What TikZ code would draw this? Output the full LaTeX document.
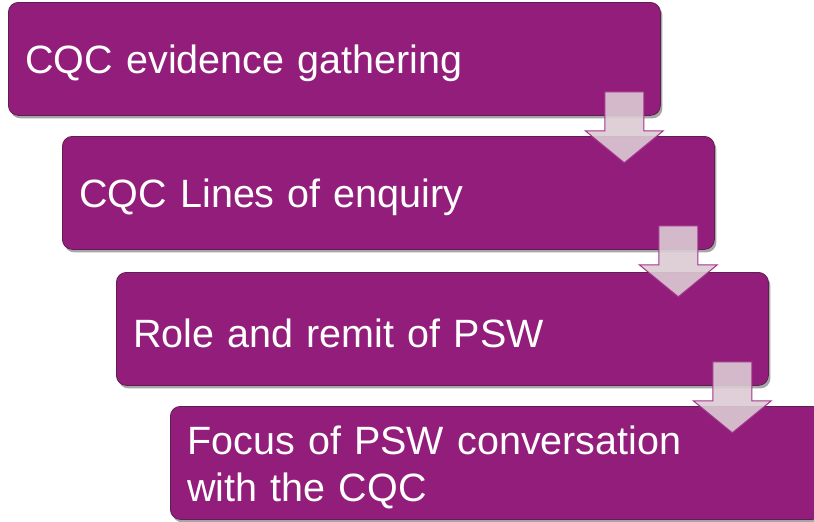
\documentclass[tikz,border=0pt]{standalone}
\usepackage{fontspec}
\setmainfont{Liberation Sans}
\usetikzlibrary{shadows,calc}
\definecolor{boxpurple}{HTML}{931D7B}
\definecolor{boxedge}{HTML}{5E1F52}
\definecolor{arrowfill}{HTML}{DACBD2}
\definecolor{arrowedge}{HTML}{A3338D}
\newcommand\lowstrut{\rule{0pt}{38pt}}
\tikzset{
  stepbox/.style={draw=boxedge, line width=0.8pt, fill=boxpurple, rounded corners=10pt,
    anchor=north west, minimum height=113pt, text width=618pt, inner xsep=17pt,
    align=left, text=white, font=\fontsize{39.5pt}{47pt}\selectfont,
    drop shadow={shadow xshift=2pt, shadow yshift=-3pt, opacity=0.35, fill=black}},
  blockarrow/.pic={
    \path[draw=arrowedge, line width=1pt, fill=arrowfill, fill opacity=0.9]
      (-19.5,0) -- (19.5,0) -- (19.5,39) -- (39,39) -- (0,71) -- (-39,39) -- (-19.5,39) -- cycle;
  }
}
\begin{document}
\begin{tikzpicture}[x=1pt,y=-1pt]
\useasboundingbox (0,0) rectangle (814,522);
\clip (0,0) rectangle (814,522);
\node[stepbox] (b1) at (8,2) {\lowstrut CQC evidence gathering};
\node[stepbox] (b2) at (62,136) {\lowstrut CQC Lines of enquiry};
\node[stepbox] (b3) at (116,272) {\lowstrut Role and remit of PSW};
\node[stepbox] (b4) at (170,406) {\lowstrut Focus of PSW conversation\\with the CQC};
\coordinate (a1) at ($(b1.south east)+(-36.5,-24)$);
\coordinate (a2) at ($(b2.south east)+(-36.5,-24)$);
\coordinate (a3) at ($(b3.south east)+(-36.5,-24)$);
\pic at (a1) {blockarrow};
\pic at (a2) {blockarrow};
\pic at (a3) {blockarrow};
\end{tikzpicture}
\end{document}
